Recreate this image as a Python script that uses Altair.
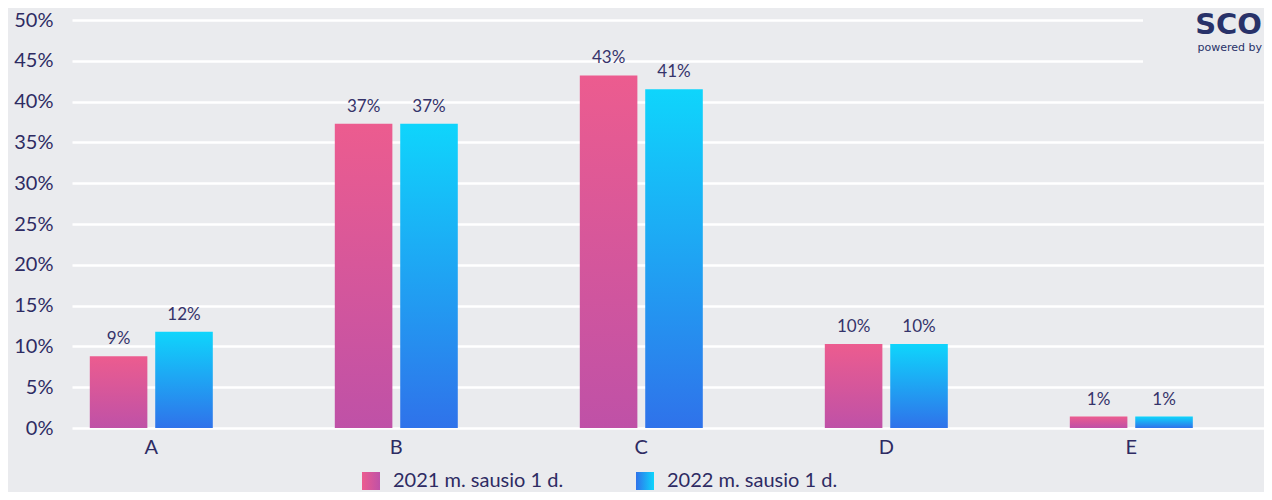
import altair as alt
import pandas as pd

categories = ["A", "B", "C", "D", "E"]
series = ["2021 m. sausio 1 d.", "2022 m. sausio 1 d."]
values_2021 = [8.8, 37.3, 43.2, 10.3, 1.4]
values_2022 = [11.8, 37.3, 41.5, 10.3, 1.4]
labels_2021 = ["9%", "37%", "43%", "10%", "1%"]
labels_2022 = ["12%", "37%", "41%", "10%", "1%"]

rows = []
for c, v, l in zip(categories, values_2021, labels_2021):
    rows.append({"cat": c, "series": series[0], "value": v, "label": l})
for c, v, l in zip(categories, values_2022, labels_2022):
    rows.append({"cat": c, "series": series[1], "value": v, "label": l})
df = pd.DataFrame(rows)

BG = "#eaebee"
NAVY = "#2e2b63"
FONT = "Lato"

pink_top, pink_bot = "#ec5c8f", "#bf51a7"
blue_top, blue_bot = "#0fd5fc", "#2f72ea"

grad_pink = alt.Gradient(gradient="linear", x1=0, y1=0, x2=0, y2=1,
                         stops=[alt.GradientStop(color=pink_top, offset=0),
                                alt.GradientStop(color=pink_bot, offset=1)])
grad_blue = alt.Gradient(gradient="linear", x1=0, y1=0, x2=0, y2=1,
                         stops=[alt.GradientStop(color=blue_top, offset=0),
                                alt.GradientStop(color=blue_bot, offset=1)])
leg_pink = alt.Gradient(gradient="linear", x1=0, y1=0, x2=1, y2=0,
                        stops=[alt.GradientStop(color=pink_top, offset=0),
                               alt.GradientStop(color=pink_bot, offset=1)])
leg_blue = alt.Gradient(gradient="linear", x1=0, y1=0, x2=1, y2=0,
                        stops=[alt.GradientStop(color=blue_bot, offset=0),
                               alt.GradientStop(color=blue_top, offset=1)])

xscale = alt.Scale(domain=categories, paddingInner=0.498, paddingOuter=0.1816, align=0.2)
base = alt.Chart(df).encode(
    x=alt.X("cat:N", scale=xscale, sort=categories,
            axis=alt.Axis(title=None, labelAngle=0, domain=False, ticks=False,
                          labelFontSize=20, labelColor=NAVY, labelFont=FONT,
                          labelPadding=9, grid=False)),
    xOffset=alt.XOffset("series:N", scale=alt.Scale(domain=series, paddingInner=0.12)),
    y=alt.Y("value:Q", scale=alt.Scale(domain=[0, 50]),
            axis=alt.Axis(title=None, values=list(range(0, 55, 5)),
                          labelExpr="datum.value + '%'", domain=False, ticks=False,
                          labelFontSize=20, labelColor=NAVY, labelFont=FONT,
                          labelPadding=19, gridColor="white", gridWidth=2.5,
                          gridOpacity=1)),
)

bars_pink = base.transform_filter(alt.datum.series == series[0]).mark_bar(color=grad_pink)
bars_blue = base.transform_filter(alt.datum.series == series[1]).mark_bar(color=grad_blue)
texts = base.mark_text(dy=-17, fontSize=17, color="#35336a", font=FONT, baseline="middle").encode(text="label:N")

leg_df = pd.DataFrame({"s": [series[0]]})
leg_df2 = pd.DataFrame({"s": [series[1]]})
sw1 = alt.Chart(leg_df).mark_rect(color=leg_pink).encode(
    x=alt.value(290), x2=alt.value(308), y=alt.value(452), y2=alt.value(470))
tx1 = alt.Chart(leg_df).mark_text(align="left", baseline="middle", fontSize=20, color=NAVY, font=FONT).encode(
    x=alt.value(321), y=alt.value(461), text="s:N")
sw2 = alt.Chart(leg_df2).mark_rect(color=leg_blue).encode(
    x=alt.value(564), x2=alt.value(582), y=alt.value(452), y2=alt.value(470))
tx2 = alt.Chart(leg_df2).mark_text(align="left", baseline="middle", fontSize=20, color=NAVY, font=FONT).encode(
    x=alt.value(595), y=alt.value(461), text="s:N")

logo_df = pd.DataFrame({"t": ["SCO"], "p": ["powered by"]})
cover = alt.Chart(logo_df).mark_rect(color=BG).encode(
    x=alt.value(1071), x2=alt.value(1200), y=alt.value(-25), y2=alt.value(62))
logo1 = alt.Chart(logo_df).mark_text(fontSize=29, fontWeight="bold", color="#283269", font="DejaVu Sans",
                                     align="right", baseline="middle").encode(
    x=alt.value(1190), y=alt.value(5), text="t:N")
logo2 = alt.Chart(logo_df).mark_text(fontSize=11, color="#283269", font="DejaVu Sans",
                                     align="right", baseline="middle").encode(
    x=alt.value(1190), y=alt.value(28), text="p:N")

chart = alt.layer(bars_pink, bars_blue, texts, sw1, tx1, sw2, tx2, cover, logo1, logo2).properties(
    width=1192, height=408,
    padding={"left": 64, "top": 12, "right": 0, "bottom": 64},
    autosize=alt.AutoSizeParams(type="none"),
    background=BG,
).configure_view(strokeWidth=0)

chart.save("out.html", embed_options={"renderer": "svg", "actions": False})
